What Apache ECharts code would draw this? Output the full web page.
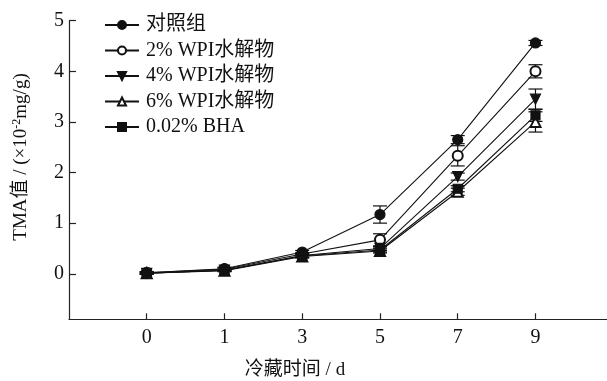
<!DOCTYPE html>
<html>
<head>
<meta charset="utf-8">
<script src="https://cdn.jsdelivr.net/npm/echarts@6/dist/echarts.min.js"></script>
<style>
  html, body { margin: 0; padding: 0; background: #fff; }
  #chart { width: 607px; height: 381px; }
</style>
</head>
<body>
<div id="chart"></div>
<script>
// Storage days (plotted at equal spacing)
const days = ['0', '1', '3', '5', '7', '9'];
const yTicks = [0, 1, 2, 3, 4, 5];

// TMA values (x10^-2 mg/g) and standard deviations
const control    = [0.02, 0.10, 0.43, 1.17, 2.65, 4.56];
const controlErr = [0.02, 0.03, 0.03, 0.17, 0.08, 0.05];
const wpi2       = [0.02, 0.09, 0.39, 0.67, 2.33, 4.00];
const wpi2Err    = [0.02, 0.03, 0.03, 0.12, 0.20, 0.13];
const wpi4       = [0.01, 0.07, 0.36, 0.50, 1.92, 3.45];
const wpi4Err    = [0.02, 0.02, 0.03, 0.04, 0.07, 0.20];
const wpi6       = [0.01, 0.06, 0.34, 0.45, 1.62, 3.00];
const wpi6Err    = [0.02, 0.02, 0.03, 0.04, 0.07, 0.20];
const bha        = [0.01, 0.07, 0.35, 0.47, 1.68, 3.13];
const bhaErr     = [0.02, 0.02, 0.03, 0.04, 0.06, 0.12];

const groups = [
  { name: '对照组',        values: control, err: controlErr, symbol: 'circle' },
  { name: '2% WPI水解物',  values: wpi2,    err: wpi2Err,    symbol: 'emptyCircle' },
  { name: '4% WPI水解物',  values: wpi4,    err: wpi4Err,    symbol: 'triangle', rotate: 180 },
  { name: '6% WPI水解物',  values: wpi6,    err: wpi6Err,    symbol: 'emptyTriangle' },
  { name: '0.02% BHA',     values: bha,     err: bhaErr,     symbol: 'rect' }
];

const FONT = '"Liberation Serif", "Noto Sans CJK SC", serif';
const INK = '#111';

const series = [];
groups.forEach(function (g) {
  // error bars with caps
  series.push({
    type: 'custom',
    name: g.name + '-err',
    z: 1,
    silent: true,
    data: g.values.map(function (v, i) { return [i, v - g.err[i], v + g.err[i]]; }),
    renderItem: function (params, api) {
      const x = api.value(0);
      const lo = api.coord([x, api.value(1)]);
      const hi = api.coord([x, api.value(2)]);
      const cap = 7;
      const style = { stroke: INK, lineWidth: 1.2, fill: null };
      return {
        type: 'group',
        children: [
          { type: 'line', shape: { x1: lo[0], y1: lo[1], x2: hi[0], y2: hi[1] }, style: style },
          { type: 'line', shape: { x1: lo[0] - cap, y1: lo[1], x2: lo[0] + cap, y2: lo[1] }, style: style },
          { type: 'line', shape: { x1: hi[0] - cap, y1: hi[1], x2: hi[0] + cap, y2: hi[1] }, style: style }
        ]
      };
    }
  });
  series.push({
    type: 'line',
    name: g.name,
    z: 3,
    data: g.values.map(function (v, i) { return [i, v]; }),
    symbol: g.symbol,
    symbolRotate: g.rotate || 0,
    symbolSize: g.symbol === 'rect' ? 9 : 10,
    showAllSymbol: true,
    lineStyle: { color: INK, width: 1.1 },
    itemStyle: { color: INK, borderColor: INK, borderWidth: 1.2 },
    emphasis: { disabled: true },
    animation: false
  });
});

const chart = echarts.init(document.getElementById('chart'), null, { renderer: 'canvas' });
chart.setOption({
  animation: false,
  backgroundColor: '#fff',
  grid: { left: 69, right: 0, top: 20.7, bottom: 61.7, outerBoundsMode: 'none' },
  legend: {
    data: groups.map(function (g) { return g.name; }),
    orient: 'vertical',
    left: 99,
    top: 10,
    itemWidth: 34,
    itemHeight: 10,
    itemGap: 5.5,
    selectedMode: false,
    textStyle: { fontFamily: FONT, fontSize: 20, color: INK, lineHeight: 20, padding: [0, 0, 0, 2] }
  },
  xAxis: {
    type: 'value',
    min: -1,
    max: 5.92,
    axisLine: { show: true, onZero: false, lineStyle: { color: '#222', width: 1.2 } },
    axisTick: { show: true, inside: true, length: 6, customValues: [0, 1, 2, 3, 4, 5], lineStyle: { color: '#222', width: 1.2 } },
    axisLabel: {
      customValues: [0, 1, 2, 3, 4, 5],
      formatter: function (v) { return days[Math.round(v)]; },
      margin: 8,
      fontFamily: FONT, fontSize: 20, color: INK
    },
    splitLine: { show: false }
  },
  yAxis: {
    type: 'value',
    min: -0.9,
    max: 5,
    axisLine: { show: true, onZero: false, lineStyle: { color: '#222', width: 1.2 } },
    axisTick: { show: true, inside: true, length: 7, customValues: yTicks, lineStyle: { color: '#222', width: 1.2 } },
    axisLabel: {
      customValues: yTicks,
      margin: 5,
      fontFamily: FONT, fontSize: 20, color: INK
    },
    splitLine: { show: false }
  },
  graphic: [
    {
      type: 'text',
      x: 21,
      y: 157,
      rotation: Math.PI / 2,
      style: {
        text: '{a|TMA值 / (×10}{s|-2}{a|mg/g)}',
        align: 'center',
        verticalAlign: 'middle',
        fill: INK,
        rich: {
          a: { fontFamily: FONT, fontSize: 19, fill: INK },
          s: { fontFamily: FONT, fontSize: 12, fill: INK, verticalAlign: 'top', padding: [0, 0, 8, 0] }
        }
      }
    },
    {
      type: 'text',
      x: 295,
      y: 370,
      style: {
        text: '冷藏时间 / d',
        align: 'center',
        verticalAlign: 'middle',
        fontFamily: FONT,
        fontSize: 19,
        fill: INK
      }
    }
  ],
  series: series
});
</script>
</body>
</html>
